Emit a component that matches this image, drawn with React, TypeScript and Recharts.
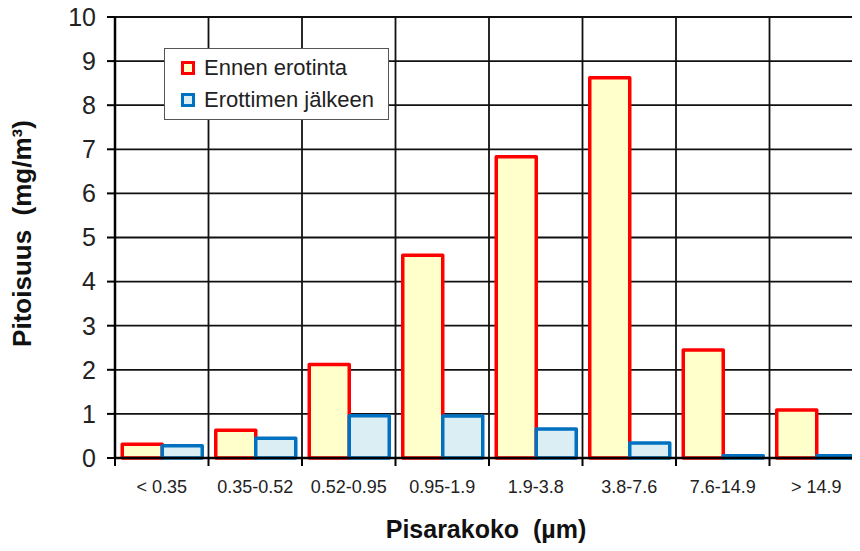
import React from 'react';
import { Bar, BarChart, CartesianGrid, Legend, XAxis, YAxis } from 'recharts';

const categories = ['< 0.35', '0.35-0.52', '0.52-0.95', '0.95-1.9', '1.9-3.8', '3.8-7.6', '7.6-14.9', '> 14.9'];
const ennenErotinta = [0.31, 0.63, 2.12, 4.6, 6.83, 8.62, 2.45, 1.09];
const erottimenJalkeen = [0.28, 0.45, 0.96, 0.95, 0.66, 0.34, 0.05, 0.05];
const yTicks = [0, 1, 2, 3, 4, 5, 6, 7, 8, 9, 10];

const data = categories.map((name, i) => ({
    name,
    ennen: ennenErotinta[i],
    jalkeen: erottimenJalkeen[i],
}));

const legendItems = [
    { label: 'Ennen erotinta', stroke: '#ff0000', fill: '#ffffcc' },
    { label: 'Erottimen jälkeen', stroke: '#0070c0', fill: '#daeef3' },
];

const LegendBox = () => (
    <div style={{ padding: '3px 0 0 16px' }}>
        {legendItems.map((it) => (
            <div key={it.label} style={{ display: 'flex', alignItems: 'center', height: 32 }}>
                <span
                    style={{
                        display: 'inline-block',
                        width: 8,
                        height: 8,
                        border: `3px solid ${it.stroke}`,
                        background: it.fill,
                        marginRight: 9,
                    }}
                />
                <span style={{ fontSize: 22, color: '#222', fontFamily: '"Liberation Sans", Arial, sans-serif' }}>{it.label}</span>
            </div>
        ))}
    </div>
);

const YTitle = (props: any) => {
    const vb = props.viewBox;
    const x = 22;
    const y = vb.y + vb.height / 2 - 4;
    return (
        <text
            x={x}
            y={y}
            transform={`rotate(-90, ${x}, ${y})`}
            textAnchor="middle"
            dominantBaseline="central"
            fontSize={26}
            fontWeight="bold"
            fill="#111"
            style={{ whiteSpace: 'pre' }}
        >
            {'Pitoisuus  (mg/m³)'}
        </text>
    );
};

const XTitle = (props: any) => {
    const vb = props.viewBox;
    const x = vb.x + vb.width / 2 - 3;
    const y = vb.y + 80;
    return (
        <text x={x} y={y} textAnchor="middle" fontSize={25} fontWeight="bold" fill="#111" style={{ whiteSpace: 'pre' }}>
            {'Pisarakoko  (µm)'}
        </text>
    );
};

// category label at the band centre, plus a short tick mark at the band edges
const CatTick = (props: any) => {
    const { x, y, payload, index } = props;
    const half = payload.offset || 0;
    const last = index === categories.length - 1;
    return (
        <g>
            <line x1={x - half} x2={x - half} y1={y - 1} y2={y + 8} stroke="#000" strokeWidth={2} />
            {last && <line x1={x + half} x2={x + half} y1={y - 1} y2={y + 8} stroke="#000" strokeWidth={2} />}
            <text
                x={x}
                y={y + 35}
                textAnchor="middle"
                style={{ fontSize: 18, fontFamily: '"Liberation Sans", Arial, sans-serif' }}
                fill="#222"
            >
                {payload.value}
            </text>
        </g>
    );
};

const bandEdges = ({ offset }: any) =>
    [...categories, ''].map((_, i) => offset.left + (i * offset.width) / categories.length);

const App = () => {
    return (
        <div style={{ width: 860, height: 551, overflow: 'hidden', margin: -8, fontFamily: '"Liberation Sans", Arial, sans-serif' }}>
            <BarChart
                width={870}
                height={551}
                data={data}
                margin={{ top: 17, right: 7, bottom: 0, left: 0 }}
                barCategoryGap="7.75%"
                barGap={0}
            >
                <CartesianGrid stroke="#111" strokeWidth={1.8} verticalCoordinatesGenerator={bandEdges} />
                <XAxis
                    dataKey="name"
                    height={93}
                    axisLine={{ stroke: '#000', strokeWidth: 2.5 }}
                    tickLine={false}
                    tickSize={0}
                    tickMargin={0}
                    interval={0}
                    tick={<CatTick />}
                    label={<XTitle />}
                />
                <YAxis
                    width={115}
                    domain={[0, 10]}
                    ticks={yTicks}
                    interval={0}
                    tickSize={8}
                    tickMargin={11}
                    axisLine={{ stroke: '#000', strokeWidth: 2.5 }}
                    tickLine={{ stroke: '#000', strokeWidth: 2 }}
                    tick={{ fontSize: 25, fill: '#222' }}
                    label={<YTitle />}
                />
                <Legend
                    verticalAlign="middle"
                    align="center"
                    layout="vertical"
                    content={<LegendBox />}
                    wrapperStyle={{
                        left: 164,
                        top: 48,
                        width: 225,
                        height: 72,
                        border: '1px solid #555',
                        background: '#fff',
                        boxSizing: 'border-box',
                    }}
                />
                <Bar
                    dataKey="ennen"
                    name="Ennen erotinta"
                    fill="#ffffcc"
                    stroke="#ff0000"
                    strokeWidth={3.5}
                    strokeLinejoin="round"
                    isAnimationActive={false}
                />
                <Bar
                    dataKey="jalkeen"
                    name="Erottimen jälkeen"
                    fill="#daeef3"
                    stroke="#0070c0"
                    strokeWidth={3.5}
                    strokeLinejoin="round"
                    isAnimationActive={false}
                />
            </BarChart>
        </div>
    );
};

export default App;
